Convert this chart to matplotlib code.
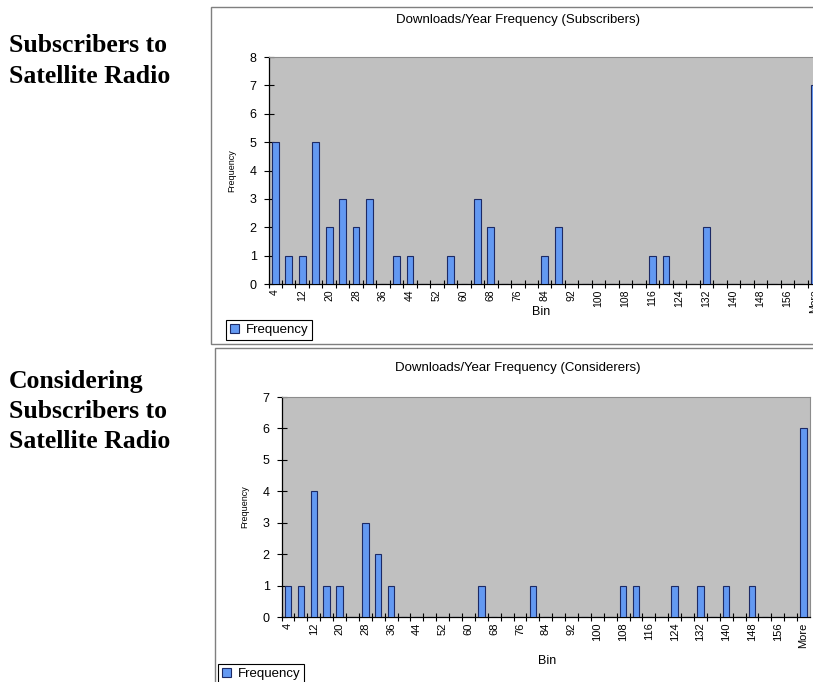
import matplotlib
matplotlib.use("Agg")
import matplotlib.pyplot as plt
from matplotlib.patches import Rectangle

# bins 4, 8, ..., 160 and "More"
bins = [str(b) for b in range(4, 164, 4)] + ["More"]

subscribers = [5, 1, 1, 5, 2, 3, 2, 3, 0, 1,
               1, 0, 0, 1, 0, 3, 2, 0, 0, 0,
               1, 2, 0, 0, 0, 0, 0, 0, 1, 1,
               0, 0, 2, 0, 0, 0, 0, 0, 0, 0,
               7]
considerers = [1, 1, 4, 1, 1, 0, 3, 2, 1, 0,
               0, 0, 0, 0, 0, 1, 0, 0, 0, 1,
               0, 0, 0, 0, 0, 0, 1, 1, 0, 0,
               1, 0, 1, 0, 1, 0, 1, 0, 0, 0,
               6]

W, H = 813, 682
fig = plt.figure(figsize=(W / 100, H / 100), dpi=100)
fig.patch.set_facecolor("white")
SANS = "Liberation Sans"


def rect(left, top, right, bottom):
    return [left / W, 1 - bottom / H, (right - left) / W, (bottom - top) / H]


def chart(ax_rect, frame, values, ymax, title, title_y, bin_x, bin_y, leg_xy, xfs):
    # outer chart frame
    fl, ft, fr, fb = frame
    fig.add_artist(Rectangle((fl / W, 1 - fb / H), (fr - fl) / W, (fb - ft) / H,
                             transform=fig.transFigure, facecolor="white",
                             edgecolor="#7f7f7f", lw=1.0, zorder=0))
    ax = fig.add_axes(rect(*ax_rect))
    ax.set_facecolor("#c0c0c0")
    x = list(range(len(bins)))
    bars = ax.bar(x, values, width=0.5, color="#6399f2", edgecolor="#1c2a66",
                  lw=0.8, label="Frequency", zorder=3)
    ax.set_xlim(-0.5, len(bins) - 0.5)
    ax.set_ylim(0, ymax)
    ax.set_yticks(range(0, ymax + 1))
    ax.set_xticks(x[::2])
    ax.set_xticklabels(bins[::2], rotation=90, fontsize=xfs, fontfamily=SANS)
    ax.set_xticks([i + 0.5 for i in x[:-1]] + [-0.5], minor=True)
    ax.tick_params(axis="x", which="major", length=0, pad=4)
    ax.tick_params(axis="x", which="minor", length=6, direction="inout", width=0.8)
    ax.tick_params(axis="y", length=7, width=0.8, direction="inout",
                   labelsize=9, pad=5)
    for lab in ax.get_yticklabels():
        lab.set_fontfamily(SANS)
    for s in ["top", "right"]:
        ax.spines[s].set_color("#8c8c8c")
        ax.spines[s].set_linewidth(0.8)
    for s in ["left", "bottom"]:
        ax.spines[s].set_color("black")
        ax.spines[s].set_linewidth(0.9)
    ax.set_ylabel("Frequency", fontsize=6.5, fontfamily=SANS, labelpad=10)
    fig.text(518 / W, 1 - title_y / H, title, ha="center",
             va="center", fontsize=9.5, fontfamily=SANS)
    fig.text(bin_x / W, 1 - bin_y / H, "Bin", ha="center",
             va="center", fontsize=9, fontfamily=SANS)
    leg = fig.legend(handles=[bars], labels=["Frequency"], loc="upper left",
                     bbox_to_anchor=(leg_xy[0] / W, 1 - leg_xy[1] / H),
                     fancybox=False, edgecolor="black", framealpha=1,
                     handlelength=0.7, handleheight=0.7,
                     handletextpad=0.5, borderpad=0.3, borderaxespad=0,
                     prop={"family": SANS, "size": 9.5})
    leg.get_frame().set_linewidth(0.8)
    return ax


chart((268.5, 57, 821, 284), (211, 7, 830, 344), subscribers, 8,
      "Downloads/Year Frequency (Subscribers)", 20, 541, 312, (226, 320), 7.5)
chart((281.6, 397, 810, 617), (215, 348, 830, 700), considerers, 7,
      "Downloads/Year Frequency (Considerers)", 368, 547, 661, (218, 664), 8)

serif = dict(fontfamily="Liberation Serif", fontweight="bold", fontsize=18.5,
             va="baseline", ha="left")
for line, base in [("Subscribers to", 52), ("Satellite Radio", 83),
                   ("Considering", 388), ("Subscribers to", 418),
                   ("Satellite Radio", 448)]:
    fig.text(9 / W, 1 - base / H, line, **serif)

fig.savefig("out.png", dpi=100)
